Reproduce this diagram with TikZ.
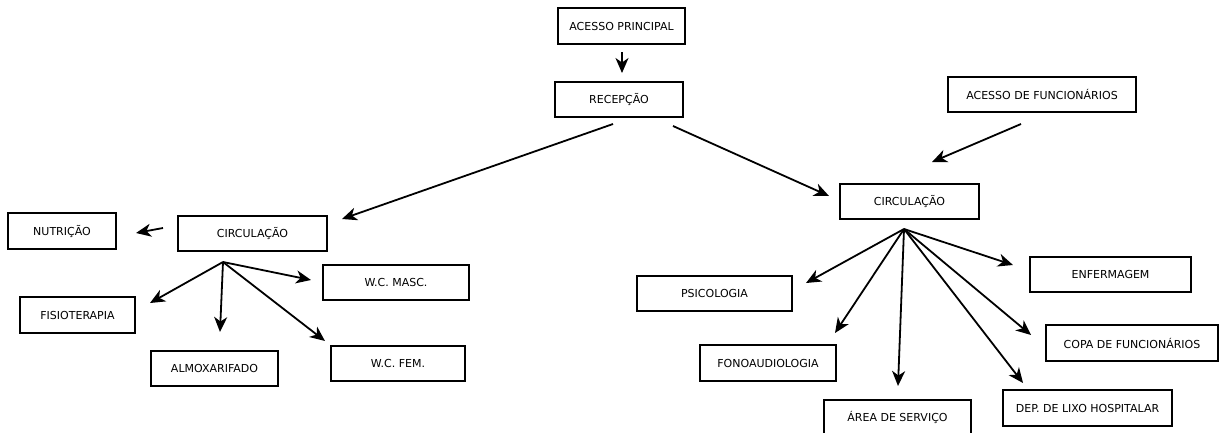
\documentclass[tikz,border=0pt]{standalone}
\usepackage{fontspec}
\setmainfont{DejaVu Sans}
\usetikzlibrary{arrows.meta}
\begin{document}
\begin{tikzpicture}[x=1pt,y=-1pt,
  box/.style={draw, line width=1.6pt, inner sep=0pt, font=\fontsize{11}{13}\selectfont},
  arr/.style={line width=1.8pt, -{Stealth[length=15pt,width=13pt,inset=4.5pt]}}]
\useasboundingbox (0,0) rectangle (1220,432);
% top
\node[box, minimum width=127pt, minimum height=36pt] (ap) at (621.5,26) {ACESSO PRINCIPAL};
\node[box, minimum width=128pt, minimum height=35pt] (rec) at (619,99.5) {RECEPÇÃO};
\node[box, minimum width=188pt, minimum height=35pt] (af) at (1042,94.5) {ACESSO DE FUNCIONÁRIOS};
% left
\node[box, minimum width=149pt, minimum height=35pt] (cl) at (252.5,233.5) {CIRCULAÇÃO};
\node[box, minimum width=108pt, minimum height=36pt] (nut) at (62,231) {NUTRIÇÃO};
\node[box, minimum width=115pt, minimum height=36pt] (fis) at (77.5,315) {FISIOTERAPIA};
\node[box, minimum width=127pt, minimum height=35pt] (alm) at (214.5,368.5) {ALMOXARIFADO};
\node[box, minimum width=146pt, minimum height=35pt] (wcm) at (396,282.5) {W.C. MASC.};
\node[box, minimum width=134pt, minimum height=35pt] (wcf) at (398,363.5) {W.C. FEM.};
% right
\node[box, minimum width=139pt, minimum height=35pt] (cr) at (909.5,201.5) {CIRCULAÇÃO};
\node[box, minimum width=155pt, minimum height=35pt] (psi) at (714.5,293.5) {PSICOLOGIA};
\node[box, minimum width=136pt, minimum height=36pt] (fon) at (768,363) {FONOAUDIOLOGIA};
\node[box, minimum width=147pt, minimum height=34pt] (are) at (897.5,417) {ÁREA DE SERVIÇO};
\node[box, minimum width=161pt, minimum height=35pt] (enf) at (1110.5,274.5) {ENFERMAGEM};
\node[box, minimum width=172pt, minimum height=36pt] (copa) at (1132,343) {COPA DE FUNCIONÁRIOS};
\node[box, minimum width=169pt, minimum height=36pt] (dep) at (1087.5,408) {DEP. DE LIXO HOSPITALAR};
% connector points
\coordinate (ap1) at (622,52);   \coordinate (ap2) at (622,73);
\coordinate (rl1) at (613,124);  \coordinate (rl2) at (342,219);
\coordinate (rr1) at (673,126);  \coordinate (rr2) at (829,196);
\coordinate (af1) at (1021,124); \coordinate (af2) at (932,162);
\coordinate (cn1) at (163,228);  \coordinate (cn2) at (136,233);
\coordinate (hl) at (223,262);
\coordinate (tfis) at (150,303);
\coordinate (talm) at (220,332);
\coordinate (twcm) at (311,280);
\coordinate (twcf) at (325,341);
\coordinate (hr) at (904,229);
\coordinate (tpsi) at (806,283);
\coordinate (tfon) at (835,333);
\coordinate (tare) at (898,386);
\coordinate (tenf) at (1013,265);
\coordinate (tcopa) at (1031,335);
\coordinate (tdep) at (1023,383);
% connectors
\draw[arr] (ap1) -- (ap2);
\draw[arr] (rl1) -- (rl2);
\draw[arr] (rr1) -- (rr2);
\draw[arr] (af1) -- (af2);
\draw[arr] (cn1) -- (cn2);
\draw[arr] (hl) -- (tfis);
\draw[arr] (hl) -- (talm);
\draw[arr] (hl) -- (twcm);
\draw[arr] (hl) -- (twcf);
\draw[arr] (hr) -- (tpsi);
\draw[arr] (hr) -- (tfon);
\draw[arr] (hr) -- (tare);
\draw[arr] (hr) -- (tenf);
\draw[arr] (hr) -- (tcopa);
\draw[arr] (hr) -- (tdep);
\end{tikzpicture}
\end{document}
